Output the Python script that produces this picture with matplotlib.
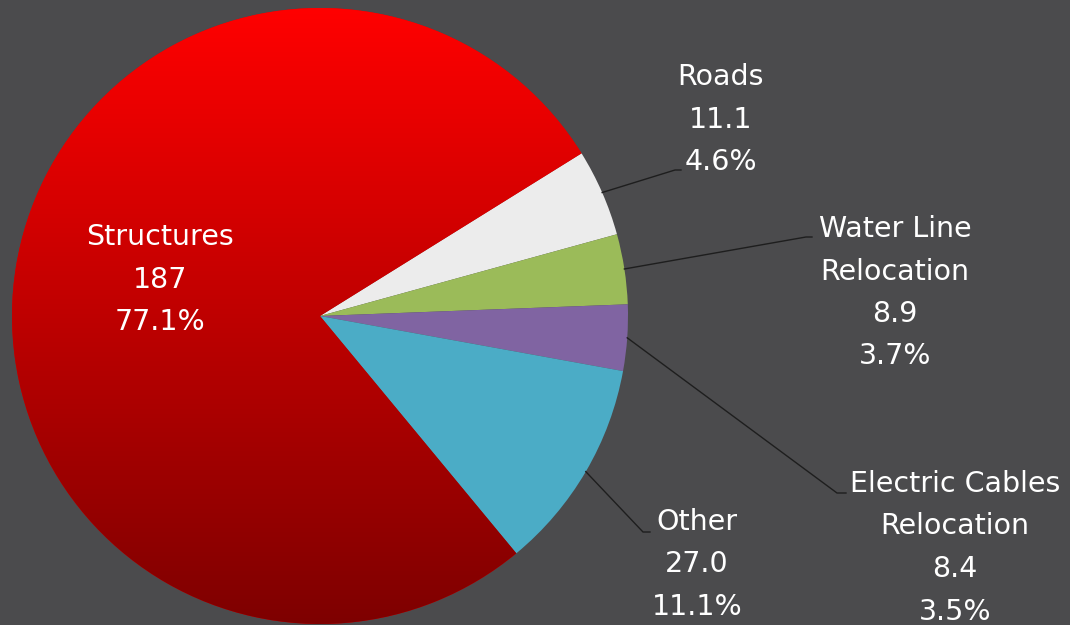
import numpy as np
import matplotlib

matplotlib.use("Agg")
import matplotlib.pyplot as plt
from matplotlib.colors import LinearSegmentedColormap

categories = ["Structures", "Roads", "Water Line\nRelocation", "Electric Cables\nRelocation", "Other"]
values = [187, 11.1, 8.9, 8.4, 27.0]
value_labels = ["187", "11.1", "8.9", "8.4", "27.0"]
pct_labels = ["77.1%", "4.6%", "3.7%", "3.5%", "11.1%"]
colors = ["#e00000", "#ececec", "#9bbb59", "#8064a2", "#4bacc6"]

W, H = 1070, 625
BG = "#4b4b4d"
CX, CY, R = 320, H - 316, 308
START = 309.6

# layout, pixel coords measured from top-left: (text centre x, first baseline y)
label_pos = [(160, 245), (721, 85), (895, 237), (955, 492), (697, 530)]
# leader elbow (x, y) and end x of the short horizontal tick
elbows = [None, (675, 170, 681), (806, 237, 812), (837, 493, 846), (643, 532, 650)]
PITCH = 42.5

fig = plt.figure(figsize=(W / 100, H / 100), dpi=100, facecolor=BG)
ax = fig.add_axes([0, 0, 1, 1])
ax.set_facecolor(BG)

wedges, _ = ax.pie(values, colors=colors, startangle=START, counterclock=False,
                   center=(CX, CY), radius=R, frame=True,
                   wedgeprops=dict(linewidth=0))

# vertical red gradient on the big slice
cmap = LinearSegmentedColormap.from_list("red", ["#7e0000", "#ff0000"])
grad = np.linspace(0, 1, 256).reshape(-1, 1)
im = ax.imshow(grad, cmap=cmap, extent=(CX - R, CX + R, CY - R, CY + R),
               origin="lower", aspect="auto", zorder=wedges[0].get_zorder() + 0.1)
im.set_clip_path(wedges[0])

font = ["DejaVu Sans"]
for i, w in enumerate(wedges):
    lines = categories[i].split("\n") + [value_labels[i], pct_labels[i]]
    x0, y0 = label_pos[i]
    for k, s in enumerate(lines):
        ax.text(x0, H - (y0 + k * PITCH), s, ha="center", va="baseline",
                color="white", fontsize=20.5, family=font, zorder=5)
    if elbows[i] is None:
        continue
    mid = np.deg2rad((w.theta1 + w.theta2) / 2)
    sx, sy = CX + R * np.cos(mid), CY + R * np.sin(mid)
    ex, ey, tx = elbows[i]
    ax.plot([sx, ex, tx], [sy, H - ey, H - ey], color="#1e1e1e", lw=1.0,
            zorder=4, solid_joinstyle="miter")

ax.set_xlim(0, W)
ax.set_ylim(0, H)
ax.set_aspect("equal")
ax.axis("off")
fig.savefig("out.png", dpi=100, facecolor=BG)
